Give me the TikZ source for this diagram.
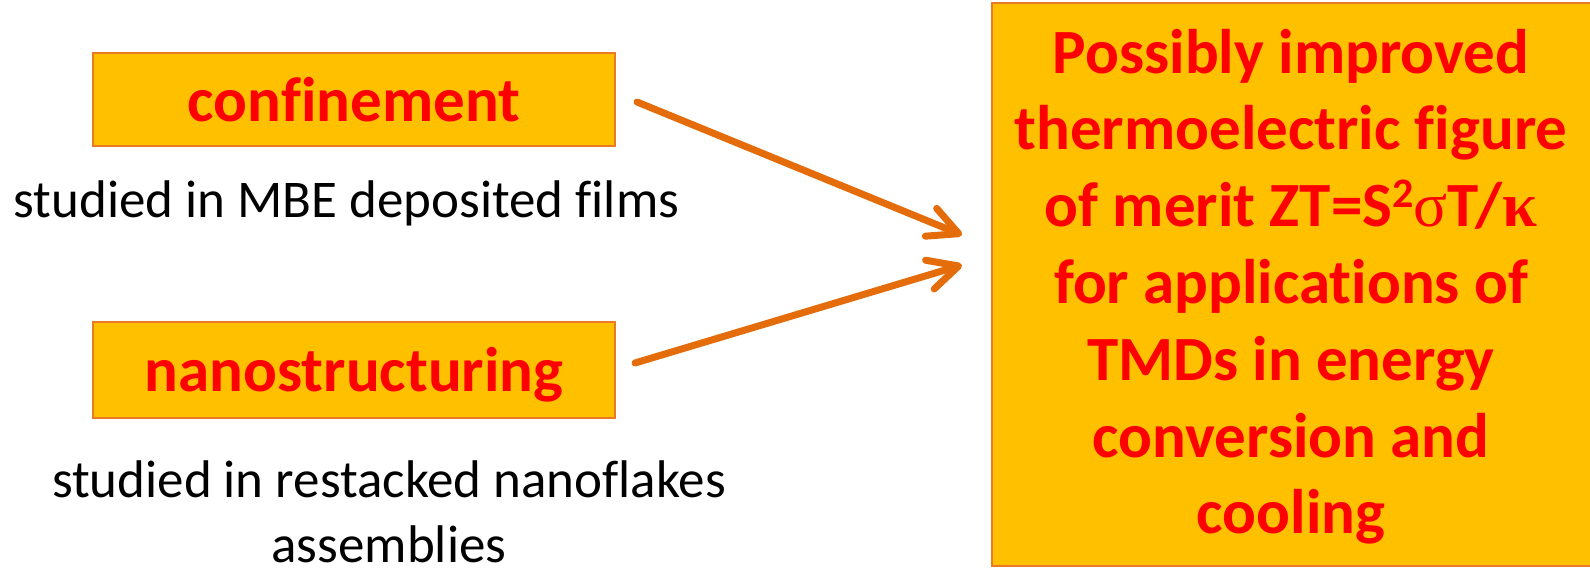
\documentclass[tikz,border=0pt]{standalone}
\usepackage{fontspec}
\setmainfont[Ligatures=CommonOff]{Carlito}
\newfontfamily\grk{Liberation Serif}
\usetikzlibrary{arrows.meta}
\definecolor{gold}{HTML}{FFC000}
\definecolor{boxline}{HTML}{E97B25}
\definecolor{arr}{HTML}{E46C0A}
\definecolor{txtred}{HTML}{FF0000}
\tikzset{
  gbox/.style={draw=boxline, line width=1.5pt, fill=gold, text=txtred, inner sep=0pt,
    font=\fontsize{63}{77}\selectfont\bfseries, text height=44pt, text depth=0pt},
  bigbox/.style={draw=boxline, line width=1.5pt, fill=gold, inner sep=0pt},
  redtext/.style={text=txtred, align=center, inner sep=0pt, font=\fontsize{63}{76.8}\selectfont\bfseries},
  note/.style={text=black, align=center, inner sep=0pt, font=\fontsize{53}{65}\selectfont},
  conn/.style={draw=arr, line width=7pt, line cap=round, -{Straight Barb[length=30pt,width=30pt,round]}}
}
\begin{document}
\begin{tikzpicture}[x=1pt,y=1pt]
\useasboundingbox (0,0) rectangle (1590,572);
\node[gbox, minimum width=522pt, minimum height=93pt] (conf) at (354,472.5) {confinement};
\node[gbox, minimum width=522pt, minimum height=96pt] (nano) at (354,202) {nanostructuring};
\node[note, anchor=base] (n1) at (346.5,354) {studied in MBE deposited films};
\node[note, anchor=base] (n2) at (389,9) {studied in restacked nanoflakes\\assemblies};
\node[bigbox, minimum width=602pt, minimum height=563pt] (res) at (1293,287.5) {};
\node[redtext, anchor=base] (restext) at (1291,38)
  {Possibly improved\\thermoelectric figure\\of merit ZT=S\raisebox{19pt}{\fontsize{42}{42}\selectfont 2}{\grk\mdseries σ}T/{\grk κ}\\for applications of\\TMDs in energy\\conversion and\\cooling};
\coordinate (a1s) at (637,470);
\coordinate (a1e) at (962,337);
\coordinate (a2s) at (635,209);
\coordinate (a2e) at (962,307);
\draw[conn] (a1s) -- (a1e);
\draw[conn] (a2s) -- (a2e);
\end{tikzpicture}
\end{document}
